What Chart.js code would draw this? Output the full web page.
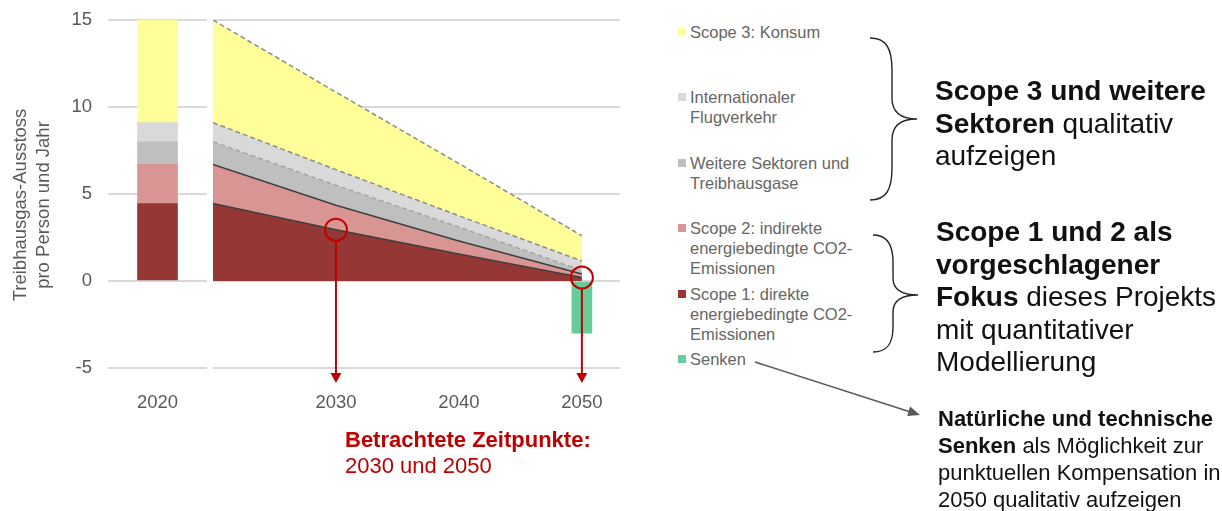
<!DOCTYPE html>
<html><head><meta charset="utf-8">
<script src="https://cdn.jsdelivr.net/npm/chart.js@4.4.1/dist/chart.umd.min.js"></script>
<style>
html,body{margin:0;padding:0;background:#fff;width:1222px;height:511px;overflow:hidden;font-family:"Liberation Sans",Arial,sans-serif;}
.abs{position:absolute;}
#ytitle{left:-99px;top:182px;width:260px;height:46px;transform:rotate(-90deg);text-align:center;font-size:18.5px;line-height:23px;color:#595959;white-space:nowrap;}
.leg{position:absolute;left:678px;font-size:16.5px;line-height:20px;color:#666;white-space:nowrap;}
.leg .box{position:absolute;left:0;top:6px;width:8px;height:8px;}
.leg .txt{position:absolute;left:12px;top:0;}
.big{position:absolute;font-size:28px;line-height:32.5px;color:#111;white-space:nowrap;}
.mid{position:absolute;font-size:22px;line-height:27px;color:#111;white-space:nowrap;}
.red{position:absolute;font-size:22px;line-height:26px;color:#c00000;white-space:nowrap;}
</style></head><body>
<div class="abs" style="left:0;top:0;width:210px;height:420px"><canvas id="c1" width="210" height="420"></canvas></div>
<div class="abs" style="left:210px;top:0;width:420px;height:420px"><canvas id="c2" width="420" height="420"></canvas></div>
<div id="ytitle" class="abs"></div>
<div id="legend"></div>
<svg class="abs" style="left:0;top:0" width="1222" height="511">
  <path d="M870,38 C886,38 892,48 892,70 L892,98 C892,111 900,119 917,119 C900,119 892,127 892,140 L892,168 C892,190 886,200 870,200" fill="none" stroke="#262626" stroke-width="1.4"/>
  <path d="M873,235 C887,235 893,245 893,262 L893,278 C893,289 900,295 918,295 C900,295 893,301 893,312 L893,327 C893,344 887,352 873,352" fill="none" stroke="#262626" stroke-width="1.4"/>
  <line x1="755" y1="362" x2="909" y2="411.5" stroke="#595959" stroke-width="1.5"/>
  <polygon points="920,415 907.1,416.1 910.1,406.5" fill="#595959"/>
</svg>
<div class="big" style="left:935px;top:75px"><b>Scope 3 und weitere</b><br><b>Sektoren</b> qualitativ<br>aufzeigen</div>
<div class="big" style="left:936px;top:216px"><b>Scope 1 und 2 als</b><br><b>vorgeschlagener</b><br><b>Fokus</b> dieses Projekts<br>mit quantitativer<br>Modellierung</div>
<div class="mid" style="left:938px;top:405px"><b>Natürliche und technische</b><br><b>Senken</b> als Möglichkeit zur<br>punktuellen Kompensation in<br>2050 qualitativ aufzeigen</div>
<div class="red" style="left:345px;top:427px"><b>Betrachtete Zeitpunkte:</b><br>2030 und 2050</div>
<script>
// ---------- data ----------
const yAxisTitle = ["Treibhausgas-Ausstoss", "pro Person und Jahr"];
const barCategories = ["2020"];
const years = [2020, 2030, 2040, 2050];
const tickYears = [2030, 2040, 2050];
const focusYears = [2030, 2050];
const seriesNames = [
  "Scope 1: direkte energiebedingte CO2-Emissionen",
  "Scope 2: indirekte energiebedingte CO2-Emissionen",
  "Weitere Sektoren und Treibhausgase",
  "Internationaler Flugverkehr",
  "Scope 3: Konsum"
];
const senkenName = "Senken";
// 2020 reference bar (stack segments, bottom to top)
const bar2020 = [4.45, 2.25, 1.3, 1.1, 5.9];
// pathway segments per year
const scope1 = [4.45, 2.95, 1.55, 0.2];
const scope2 = [2.25, 1.4, 0.75, 0.2];
const weitere = [1.3, 1.15, 0.8, 0.2];
const flug = [1.1, 0.9, 0.65, 0.55];
const scope3 = [5.9, 4.45, 3.0, 1.45];
const senkenYears = [2050];
const senken = [-3];
const legendLines = [
  ["Scope 3: Konsum"],
  ["Internationaler", "Flugverkehr"],
  ["Weitere Sektoren und", "Treibhausgase"],
  ["Scope 2: indirekte", "energiebedingte CO2-", "Emissionen"],
  ["Scope 1: direkte", "energiebedingte CO2-", "Emissionen"],
  ["Senken"]
];

// ---------- styles ----------
const fills = ["#953735", "#d99594", "#bfbfbf", "#d9d9d9", "#ffff99"];
const senkenColor = "#66cc99";
const borderColors = ["#3f3f3f", "#3f3f3f", "#a6a6a6", "#8c8c8c", "#8c8c8c"];
const borderDashes = [[], [], [5, 3], [5, 3], [5, 3]];
const legendColors = ["#ffff99", "#d9d9d9", "#bfbfbf", "#d99594", "#953735", senkenColor];
const tickFont = { family: "'Liberation Sans', Arial, sans-serif", size: 18.5 };
const tickColor = "#595959";
const gridStyle = { color: "#d9d9d9", lineWidth: 2, drawTicks: false };

document.getElementById("ytitle").innerHTML = yAxisTitle.join("<br>");

// legend
const legendEl = document.getElementById("legend");
legendLines.forEach((lines, i) => {
  const d = document.createElement("div");
  d.className = "leg";
  d.style.top = (22 + i * 65.4) + "px";
  d.innerHTML = '<span class="box" style="background:' + legendColors[i] + '"></span><span class="txt">' + lines.join("<br>") + "</span>";
  legendEl.appendChild(d);
});

Chart.defaults.animation = false;
Chart.defaults.devicePixelRatio = 1;

const yScaleBase = {
  type: "linear", min: -5, max: 15, stacked: true,
  grid: gridStyle, border: { display: false }
};

// ---------- left chart: 2020 bar ----------
const segs = [scope1, scope2, weitere, flug, scope3];
new Chart(document.getElementById("c1"), {
  type: "bar",
  data: {
    labels: barCategories,
    datasets: bar2020.map((v, i) => ({
      label: seriesNames[i], data: [v], backgroundColor: fills[i],
      borderWidth: 0, barThickness: 40
    }))
  },
  options: {
    responsive: false,
    layout: { padding: { top: 20, right: 3, left: 0, bottom: 0 } },
    plugins: { legend: { display: false }, tooltip: { enabled: false } },
    scales: {
      x: { stacked: true, grid: { display: false }, border: { display: false },
           ticks: { font: tickFont, color: tickColor, padding: 16 },
           afterFit: s => { s.height = 52; s.paddingLeft = 0; s.paddingRight = 0; } },
      y: Object.assign({}, yScaleBase, {
           ticks: { stepSize: 5, font: tickFont, color: tickColor, padding: 16 },
           afterFit: s => { s.width = 108; s.paddingTop = 0; s.paddingBottom = 0; } })
    }
  }
});

// ---------- right chart: pathway ----------
const focusPlugin = {
  id: "focus",
  afterDraw(chart) {
    const ctx = chart.ctx, xs = chart.scales.x, ys = chart.scales.y;
    const r = 11, tipY = chart.chartArea.bottom + 15;
    ctx.save();
    ctx.strokeStyle = "#c00000"; ctx.fillStyle = "#c00000"; ctx.lineWidth = 2;
    focusYears.forEach(yr => {
      const i = years.indexOf(yr);
      const cx = xs.getPixelForValue(yr), cy = ys.getPixelForValue(scope1[i]);
      ctx.beginPath(); ctx.arc(cx, cy, r, 0, Math.PI * 2); ctx.stroke();
      ctx.beginPath(); ctx.moveTo(cx, cy + r); ctx.lineTo(cx, tipY - 9); ctx.stroke();
      ctx.beginPath(); ctx.moveTo(cx - 5.5, tipY - 10); ctx.lineTo(cx + 5.5, tipY - 10); ctx.lineTo(cx, tipY); ctx.closePath(); ctx.fill();
    });
    ctx.restore();
  }
};

const lineSets = segs.map((vals, i) => ({
  type: "line",
  label: seriesNames[i],
  data: years.map((x, j) => ({ x: x, y: vals[j] })),
  backgroundColor: fills[i],
  borderColor: borderColors[i],
  borderWidth: 1.5,
  borderDash: borderDashes[i],
  fill: i === 0 ? "origin" : "-1",
  pointRadius: 0, tension: 0
}));
const sinkSet = {
  type: "bar", label: senkenName,
  data: senkenYears.map((x, j) => ({ x: x, y: senken[j] })),
  backgroundColor: senkenColor, borderWidth: 0, barThickness: 20
};

new Chart(document.getElementById("c2"), {
  type: "line",
  data: { datasets: lineSets.concat([sinkSet]) },
  options: {
    responsive: false,
    layout: { padding: { top: 20, right: 10, left: 0, bottom: 0 } },
    plugins: { legend: { display: false }, tooltip: { enabled: false } },
    scales: {
      x: { type: "linear", min: 2020, max: 2053.1, offset: false,
           grid: { display: false }, border: { display: false },
           ticks: { font: tickFont, color: tickColor, padding: 16, callback: v => String(v) },
           afterBuildTicks: s => { s.ticks = tickYears.map(v => ({ value: v })); },
           afterFit: s => { s.height = 52; s.paddingLeft = 0; s.paddingRight = 0; } },
      y: Object.assign({}, yScaleBase, {
           ticks: { display: false, stepSize: 5 },
           afterFit: s => { s.width = 3; s.paddingTop = 0; s.paddingBottom = 0; } })
    }
  },
  plugins: [focusPlugin]
});
</script>
</body></html>
